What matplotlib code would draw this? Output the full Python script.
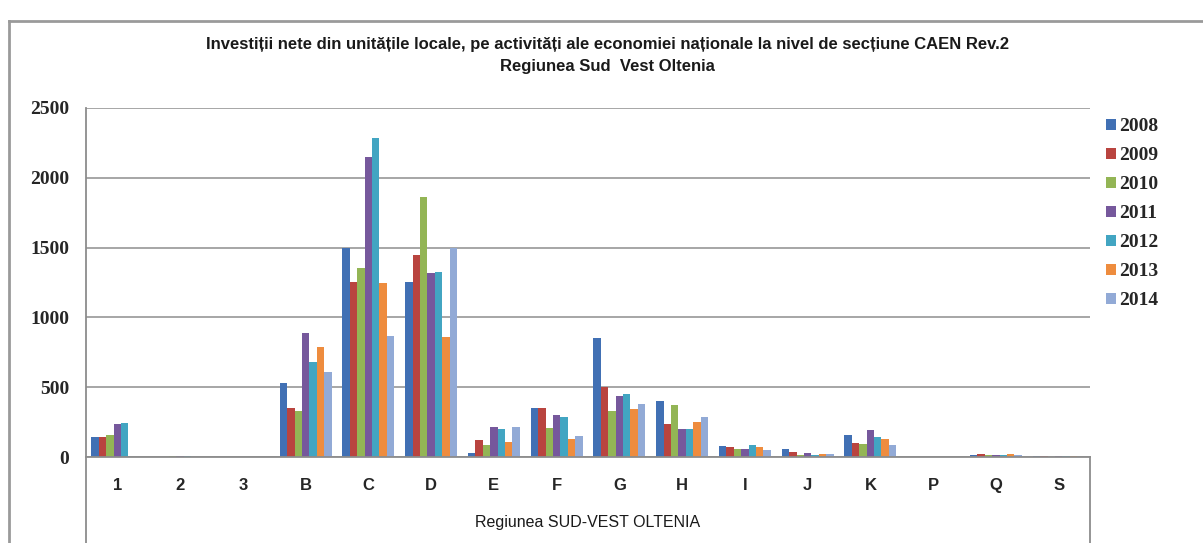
import matplotlib
matplotlib.use("Agg")
import matplotlib.pyplot as plt
import numpy as np
from matplotlib.lines import Line2D

# Date (milioane lei)
categorii = ["1", "2", "3", "B", "C", "D", "E", "F", "G", "H", "I", "J", "K", "P", "Q", "S"]
ani = ["2008", "2009", "2010", "2011", "2012", "2013", "2014"]

v2008 = [143, 3, 0, 528, 1495, 1256, 28, 353, 855, 403, 79, 55, 158, 0, 12, 10]
v2009 = [143, 0, 0, 349, 1251, 1447, 122, 353, 504, 234, 74, 38, 98, 0, 20, 8]
v2010 = [158, 5, 0, 332, 1356, 1865, 86, 210, 332, 370, 55, 15, 93, 0, 15, 0]
v2011 = [236, 8, 0, 890, 2147, 1316, 218, 301, 437, 198, 60, 26, 193, 0, 12, 5]
v2012 = [246, 6, 0, 683, 2283, 1328, 203, 289, 451, 198, 86, 16, 145, 0, 12, 8]
v2013 = [0, 0, 0, 786, 1244, 857, 109, 127, 341, 253, 74, 21, 129, 0, 18, 5]
v2014 = [0, 0, 0, 607, 869, 1495, 218, 150, 377, 289, 50, 21, 86, 0, 15, 3]
serii = [v2008, v2009, v2010, v2011, v2012, v2013, v2014]

culori = ["#4170B4", "#B9443F", "#93B555", "#76589C", "#42A5C2", "#EE8C3E", "#92AAD6"]

W, H = 1203, 543
fig = plt.figure(figsize=(W / 100, H / 100), dpi=100)

# zona graficului (pixeli -> fractii)
x0, x1, yb, yt = 86, 1090, 457, 108
ax = fig.add_axes([x0 / W, (H - yb) / H, (x1 - x0) / W, (yb - yt) / H])

x = np.arange(len(categorii))
w = 0.118
for j, (serie, an) in enumerate(zip(serii, ani)):
    ax.bar(x + (j - 3) * w, serie, width=w, color=culori[j], label=an, zorder=3)

ax.set_xlim(-0.5, len(categorii) - 0.5)
ax.set_ylim(0, 2500)
ax.set_yticks(range(0, 2501, 500))
ax.grid(axis="y", color="#A6A6A6", linewidth=1.4, zorder=0)
for s in ax.spines.values():
    s.set_visible(False)
ax.tick_params(axis="both", length=0)
ax.tick_params(axis="y", pad=12)
ax.tick_params(axis="x", pad=15)
ax.set_xticks(x)
ax.set_xticklabels(categorii, fontsize=12, fontweight="bold", family="Liberation Sans", color="#262626")
for t in ax.get_yticklabels():
    t.set_fontsize(14)
    t.set_fontweight("bold")
    t.set_family("Liberation Serif")
    t.set_color("#262626")

ax.set_xlabel("Regiunea SUD-VEST OLTENIA", fontsize=11.5, family="Liberation Sans", labelpad=16, color="#1a1a1a")

# linii axe / chenar zona grafic
def linie(xa, ya, xb, yb_, culoare="#8C8C8C", lw=1.3):
    fig.add_artist(Line2D([xa / W, xb / W], [1 - ya / H, 1 - yb_ / H], color=culoare, linewidth=lw))

linie(x0, yt, x0, H)
linie(x0, yb, x1, yb)
linie(x1, yb, x1, H)
# chenar exterior
linie(9, 21, W, 21, "#9A9A9A", 2.0)
linie(9, 21, 9, H, "#9A9A9A", 2.0)

titlu = "Investiții nete din unitățile locale, pe activități ale economiei naționale la nivel de secțiune CAEN Rev.2"
fig.text(607 / W, 1 - 45 / H, titlu, ha="center", va="center", fontsize=12, fontweight="bold",
         family=["Liberation Sans", "DejaVu Sans"], color="#1a1a1a")
fig.text(607 / W, 1 - 67 / H, "Regiunea Sud  Vest Oltenia", ha="center", va="center", fontsize=12,
         fontweight="bold", family=["Liberation Sans", "DejaVu Sans"], color="#1a1a1a")

leg = fig.legend(loc="upper left", bbox_to_anchor=(1106 / W, 1 - 118 / H), frameon=False,
                 prop={"family": "Liberation Serif", "weight": "bold", "size": 14},
                 handlelength=0.5, handleheight=0.5, handletextpad=0.2,
                 labelspacing=0.62, borderaxespad=0, borderpad=0)
for t in leg.get_texts():
    t.set_color("#262626")

fig.savefig("out.png", dpi=100)
